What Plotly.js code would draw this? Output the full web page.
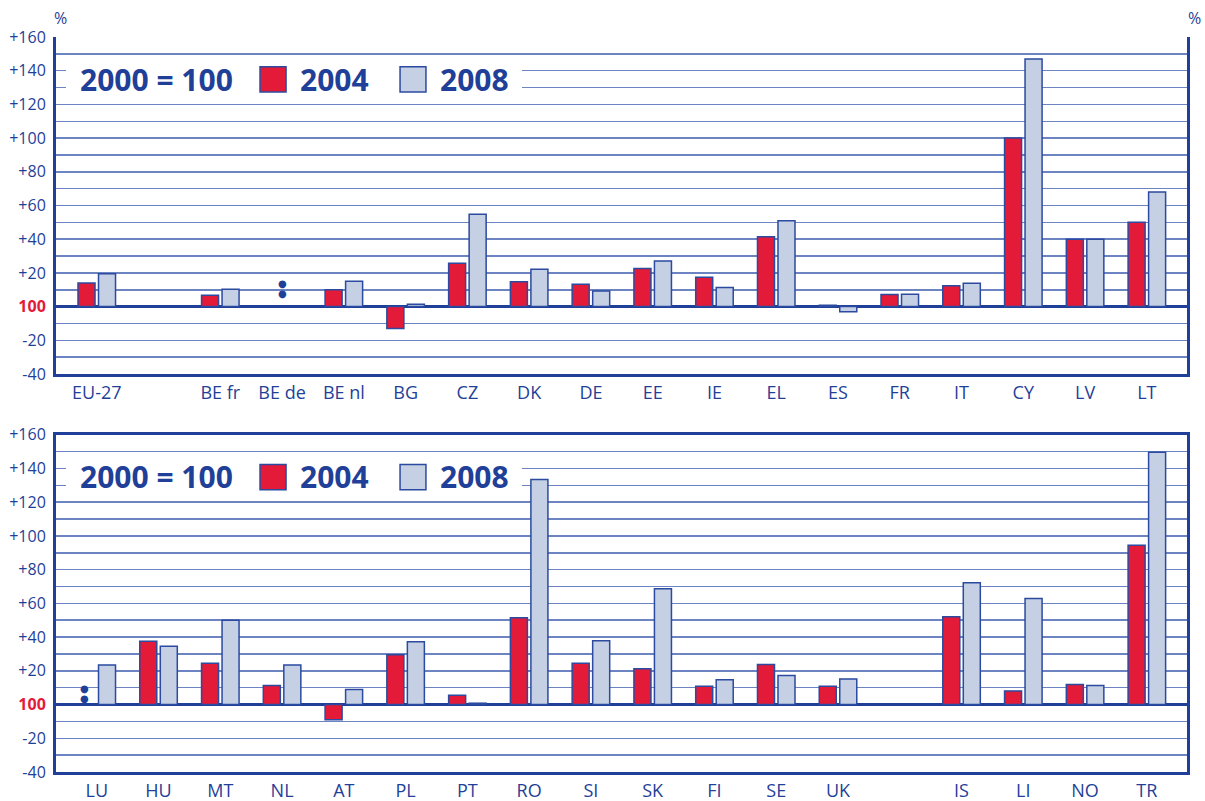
<!DOCTYPE html>
<html>
<head>
<meta charset="utf-8">
<script src="https://cdn.plot.ly/plotly-3.0.1.min.js"></script>
<style>html,body{margin:0;padding:0;background:#fff;}#chart{width:1205px;height:801px;}</style>
</head>
<body>
<div id="chart"></div>
<script>
// ---- Data (2000 = 100; change in % vs 2000) ----
const topCategories = ['EU-27', ' ', 'BE fr', 'BE de', 'BE nl', 'BG', 'CZ', 'DK', 'DE', 'EE', 'IE', 'EL', 'ES', 'FR', 'IT', 'CY', 'LV', 'LT'];
const top2004 = [14, null, 6.7, null, 10, -13, 25.7, 14.7, 13.3, 22.6, 17.4, 41.5, 0.8, 7.2, 12.3, 100, 40, 50];
const top2008 = [19.5, null, 10.3, null, 15, 1.4, 54.8, 22.2, 9.3, 27.1, 11.3, 51, -3, 7.4, 13.9, 147, 40, 68];

const bottomCategories = ['LU', 'HU', 'MT', 'NL', 'AT', 'PL', 'PT', 'RO', 'SI', 'SK', 'FI', 'SE', 'UK', '  ', 'IS', 'LI', 'NO', 'TR'];
const bottom2004 = [null, 37.6, 24.5, 11.3, -9, 29.5, 5.5, 51.5, 24.5, 21.2, 10.9, 23.7, 10.9, null, 52, 8.1, 11.9, 94.4];
const bottom2008 = [23.5, 34.6, 50, 23.5, 8.9, 37.2, 0.8, 133.5, 37.8, 68.7, 14.7, 17.2, 15.2, null, 72.2, 62.9, 11.3, 149.6];

const seriesNames = ['2004', '2008'];
const baseLabel = '2000 = 100';
const yTickVals = [-40, -30, -20, -10, 0, 10, 20, 30, 40, 50, 60, 70, 80, 90, 100, 110, 120, 130, 140, 150, 160];

// ---- Styles ----
const DARK = '#1f3f98';
const GRID = '#6c84c2';
const RED = '#e31a38';
const LIGHT = '#c5d0e4';
const FONT = 'Open Sans, Noto Sans, sans-serif';

const yTickText = yTickVals.map(v => {
  if (v === 0) return '<b><span style="color:' + RED + '">100</span></b>';
  if (v % 20 !== 0) return '';
  return v > 0 ? '+' + v : String(v);
});

function barTrace(cats, vals, name, color, xa, ya) {
  return {
    type: 'bar', x: cats, y: vals, name: name, xaxis: xa, yaxis: ya,
    marker: {color: color, line: {color: '#2b4aa0', width: 1.5}},
    showlegend: false, hoverinfo: 'x+y+name'
  };
}

const data = [
  barTrace(topCategories, top2004, seriesNames[0], RED, 'x', 'y'),
  barTrace(topCategories, top2008, seriesNames[1], LIGHT, 'x', 'y'),
  barTrace(bottomCategories, bottom2004, seriesNames[0], RED, 'x2', 'y2'),
  barTrace(bottomCategories, bottom2008, seriesNames[1], LIGHT, 'x2', 'y2')
];

function xAxis(cats, domainAnchor, mirror) {
  return {
    type: 'category', categoryorder: 'array', categoryarray: cats,
    range: [-0.66, 17.65], anchor: domainAnchor,
    showline: true, linecolor: DARK, linewidth: 3, mirror: mirror,
    showgrid: false, ticks: '', zeroline: false,
    ticklabelstandoff: 0,
    tickfont: {family: FONT, size: 18, color: DARK},
    fixedrange: true
  };
}
function yAxis(domain, anchor) {
  return {
    domain: domain, anchor: anchor, range: [-40, 160],
    tickmode: 'array', tickvals: yTickVals, ticktext: yTickText,
    showgrid: true, gridcolor: GRID, gridwidth: 1.5,
    zeroline: true, zerolinecolor: DARK, zerolinewidth: 2.5,
    showline: true, linecolor: DARK, linewidth: 3, mirror: true,
    ticks: '', ticklabelstandoff: 4,
    tickfont: {family: FONT, size: 16, color: DARK},
    fixedrange: true
  };
}

function legendItems(xr, yr) {
  const dom = xr + ' domain';
  const shapes = [
    {type: 'rect', xref: dom, yref: yr, x0: 0.0088, x1: 0.412, y0: 124, y1: 147, fillcolor: '#ffffff', line: {width: 0}, layer: 'above'},
    {type: 'rect', xref: dom, yref: yr, x0: 0.1804, x1: 0.2034, y0: 127.4, y1: 142.3, fillcolor: RED, line: {color: '#2b4aa0', width: 1.5}, layer: 'above'},
    {type: 'rect', xref: dom, yref: yr, x0: 0.3042, x1: 0.3271, y0: 127.4, y1: 142.3, fillcolor: LIGHT, line: {color: '#2b4aa0', width: 1.5}, layer: 'above'}
  ];
  const f = {family: FONT, size: 30, color: DARK, weight: 800};
  const ann = [
    {xref: dom, yref: yr, x: 0.0893, y: 135, text: '<b>' + baseLabel + '</b>', showarrow: false, font: f, xanchor: 'center', yanchor: 'middle'},
    {xref: dom, yref: yr, x: 0.2462, y: 135, text: '<b>' + seriesNames[0] + '</b>', showarrow: false, font: f, xanchor: 'center', yanchor: 'middle'},
    {xref: dom, yref: yr, x: 0.3696, y: 135, text: '<b>' + seriesNames[1] + '</b>', showarrow: false, font: f, xanchor: 'center', yanchor: 'middle'}
  ];
  return {shapes, ann};
}

const lt = legendItems('x', 'y');
const lb = legendItems('x2', 'y2');

// "not available" marker (Eurostat ':'), drawn as two dots
function naMark(xr, yr, cat, yc, xshift) {
  const f = {family: 'DejaVu Sans, sans-serif', size: 10, color: DARK};
  return [-5, 5].map(s => ({xref: xr, yref: yr, x: cat, y: yc, xshift: xshift, yshift: s,
    text: '●', showarrow: false, font: f, xanchor: 'center', yanchor: 'middle'}));
}

const annotations = [].concat(lt.ann, lb.ann, [
  {xref: 'paper', yref: 'paper', x: 0.0044, y: 1.026, text: '%', showarrow: false, font: {family: FONT, size: 16, color: DARK}, xanchor: 'center', yanchor: 'middle'},
  {xref: 'paper', yref: 'paper', x: 1.007, y: 1.026, text: '%', showarrow: false, font: {family: FONT, size: 16, color: DARK}, xanchor: 'center', yanchor: 'middle'}
], naMark('x', 'y', 'BE de', 10.6, 0), naMark('x2', 'y2', 'LU', 6.7, -12));

const layout = {
  width: 1205, height: 801,
  margin: {l: 56, r: 18, t: 37, b: 29},
  paper_bgcolor: '#ffffff', plot_bgcolor: '#ffffff',
  barmode: 'group', bargap: 0.336, bargroupgap: 0.17,
  showlegend: false,
  xaxis: xAxis(topCategories, 'y', false),
  yaxis: yAxis([0.5415, 1.0], 'x'),
  xaxis2: xAxis(bottomCategories, 'y2', true),
  yaxis2: yAxis([0.0, 0.4589], 'x2'),
  shapes: [].concat(lt.shapes, lb.shapes),
  annotations: annotations,
  font: {family: FONT, color: DARK}
};

Plotly.newPlot('chart', data, layout, {staticPlot: true, displayModeBar: false});
</script>
</body>
</html>
